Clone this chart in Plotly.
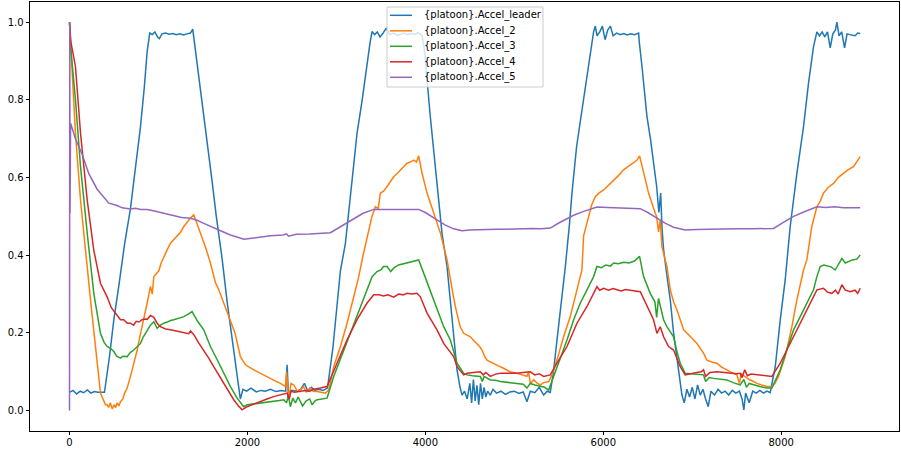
import plotly.graph_objects as go

# ---------------- data ----------------
names = ["{platoon}.Accel_leader", "{platoon}.Accel_2", "{platoon}.Accel_3",
         "{platoon}.Accel_4", "{platoon}.Accel_5"]
colors = ["#1f77b4", "#ff7f0e", "#2ca02c", "#d62728", "#9467bd"]

leader_x = [0, 40, 80, 120, 160, 200, 240, 280, 320, 360, 393,
            450, 498, 560, 620, 685, 740, 798, 840, 873, 902,
            930, 960, 990, 1010, 1040, 1080, 1120, 1160, 1200, 1240, 1280, 1320, 1360, 1385, 1400,
            1420, 1460, 1509, 1550, 1603, 1650, 1716, 1772, 1828, 1884, 1902,
            1920, 1950, 1990, 2040, 2100, 2150, 2200, 2260, 2320, 2380, 2430, 2446, 2460, 2500,
            2560, 2600, 2640, 2680, 2720, 2760, 2800, 2850, 2900,
            2960, 3045, 3101, 3170, 3232, 3290, 3345, 3380, 3401,
            3430, 3460, 3490, 3520, 3560, 3600, 3640, 3680, 3720, 3760, 3800, 3840, 3880, 3920, 3963,
            3989, 4056, 4100, 4150, 4187, 4244, 4281, 4320, 4356, 4390, 4412,
            4440, 4470, 4500, 4520, 4540, 4560, 4580, 4600, 4620, 4640, 4660, 4680, 4700, 4730,
            4760, 4800, 4850, 4900, 4950, 5000, 5050, 5100, 5142, 5180, 5230, 5280, 5330, 5370, 5404,
            5440, 5479, 5520, 5573, 5620, 5648, 5700, 5779, 5835, 5891,
            5910, 5930, 5960, 5990, 6020, 6050, 6080, 6110, 6150, 6190, 6230, 6270, 6310, 6350, 6397,
            6404, 6435, 6491, 6530, 6565, 6600, 6625, 6645, 6660, 6678, 6720, 6753, 6790, 6830, 6865,
            6884, 6910, 6940, 6970, 7000, 7030, 7060, 7090, 7120, 7150, 7180, 7210, 7250, 7290,
            7330, 7370, 7410, 7450, 7490, 7530, 7560, 7580, 7600, 7640, 7680, 7720, 7760, 7800, 7840, 7876,
            7933, 7989, 8045, 8101, 8176, 8251, 8307, 8363, 8401,
            8430, 8460, 8490, 8520, 8551, 8580, 8610, 8626, 8650, 8680, 8712, 8740, 8770, 8800, 8830, 8860, 8888]
leader_y = [0.047, 0.052, 0.043, 0.050, 0.046, 0.053, 0.045, 0.049, 0.047, 0.048, 0.047,
            0.14, 0.233, 0.33, 0.43, 0.52, 0.62, 0.731, 0.83, 0.925, 0.972,
            0.968, 0.975, 0.962, 0.958, 0.970, 0.972, 0.969, 0.971, 0.968, 0.970, 0.967, 0.970, 0.972, 0.982, 0.955,
            0.93, 0.85, 0.77, 0.69, 0.59, 0.50, 0.39, 0.28, 0.18, 0.08, 0.05,
            0.03, 0.055, 0.05, 0.058, 0.048, 0.052, 0.05, 0.055, 0.049, 0.052, 0.05, 0.118, 0.045, 0.052,
            0.05, 0.055, 0.07, 0.05, 0.06, 0.052, 0.055, 0.052, 0.058,
            0.16, 0.36, 0.43, 0.58, 0.714, 0.80, 0.90, 0.95, 0.976,
            0.968, 0.975, 0.962, 0.970, 0.985, 0.968, 0.972, 0.966, 0.970, 0.972, 0.968, 0.971, 0.969, 0.973, 0.966,
            0.93, 0.756, 0.65, 0.542, 0.457, 0.37, 0.28, 0.19, 0.105, 0.06, 0.04,
            0.05, 0.03, 0.07, 0.02, 0.08, 0.025, 0.065, 0.015, 0.07, 0.03, 0.06, 0.035, 0.05, 0.04,
            0.055, 0.045, 0.05, 0.042, 0.048, 0.05, 0.044, 0.048, 0.023, 0.05, 0.046, 0.06, 0.04, 0.05, 0.047,
            0.10, 0.18, 0.26, 0.37, 0.48, 0.56, 0.68, 0.80, 0.886, 0.975,
            0.99, 0.965, 0.975, 0.99, 0.955, 0.98, 0.99, 0.965, 0.972, 0.968, 0.971, 0.967, 0.970, 0.968, 0.972,
            0.95, 0.886, 0.757, 0.70, 0.645, 0.577, 0.51, 0.56, 0.47, 0.414, 0.34, 0.285, 0.2, 0.13, 0.08,
            0.04, 0.02, 0.055, 0.035, 0.06, 0.03, 0.066, 0.04, 0.055, 0.03, 0.01, 0.05, 0.04, 0.055,
            0.045, 0.05, 0.04, 0.052, 0.045, 0.05, 0.03, 0.002, 0.045, 0.02, 0.05, 0.045, 0.052, 0.045, 0.05, 0.046,
            0.113, 0.233, 0.337, 0.474, 0.611, 0.731, 0.843, 0.937, 0.975,
            0.965, 0.975, 0.962, 0.975, 0.934, 0.97, 0.98, 1.0, 0.965, 0.975, 0.934, 0.97, 0.968, 0.966, 0.965, 0.972, 0.971]

accel2_x = [0, 15, 30, 67, 124, 161, 199, 236, 273, 311, 348, 386, 404, 423, 440, 460, 480, 500, 520, 536,
            555, 573, 600, 620, 648, 685, 720, 761, 800, 835, 873, 910, 930, 948, 985, 1004, 1030, 1060,
            1100, 1135, 1170, 1210, 1250, 1285, 1320, 1360, 1397, 1420, 1472, 1530, 1584, 1640, 1678,
            1720, 1760, 1809, 1860, 1921, 1978, 2071, 2150, 2221, 2300, 2371, 2427, 2440, 2464, 2490,
            2521, 2560, 2596, 2630, 2660, 2700, 2740, 2783, 2830, 2876, 2914, 2970, 3045, 3120, 3195,
            3251, 3300, 3350, 3400, 3438, 3470, 3494, 3530, 3570, 3610, 3644, 3680, 3719, 3760, 3794,
            3830, 3869, 3900, 3925, 3963, 4019, 4094, 4169, 4244, 4281, 4318, 4350, 4393, 4431, 4470,
            4506, 4545, 4581, 4610, 4637, 4665, 4693, 4730, 4768, 4820, 4880, 4950, 5030, 5090, 5142,
            5160, 5180, 5220, 5260, 5292, 5330, 5386, 5420, 5479, 5554, 5629, 5704, 5760, 5779, 5835,
            5870, 5910, 5950, 6004, 6060, 6116, 6170, 6228, 6280, 6340, 6380, 6408, 6453, 6509, 6584,
            6600, 6621, 6640, 6659, 6715, 6753, 6790, 6828, 6865, 6903, 6940, 6978, 7020, 7053, 7090,
            7127, 7165, 7220, 7277, 7330, 7390, 7440, 7502, 7530, 7550, 7590, 7640, 7690, 7727, 7780,
            7839, 7895, 7930, 7970, 8045, 8120, 8176, 8251, 8288, 8344, 8401, 8440, 8475, 8530, 8588,
            8640, 8700, 8750, 8812, 8850, 8888]
accel2_y = [1.0, 0.93, 0.886, 0.714, 0.542, 0.45, 0.37, 0.285, 0.2, 0.12, 0.045, 0.025, 0.015, 0.015, 0.008,
            0.02, 0.004, 0.015, 0.008, 0.02, 0.012, 0.023, 0.03, 0.045, 0.058, 0.088, 0.12, 0.156, 0.2,
            0.233, 0.277, 0.32, 0.30, 0.345, 0.354, 0.36, 0.38, 0.397, 0.415, 0.431, 0.44, 0.448, 0.46,
            0.474, 0.485, 0.496, 0.504, 0.49, 0.457, 0.42, 0.38, 0.33, 0.311, 0.285, 0.26, 0.23, 0.2,
            0.139, 0.118, 0.105, 0.095, 0.088, 0.078, 0.07, 0.062, 0.1, 0.028, 0.07, 0.066, 0.05, 0.053,
            0.062, 0.048, 0.058, 0.05, 0.049, 0.047, 0.045, 0.053, 0.113, 0.165, 0.225, 0.293, 0.345,
            0.40, 0.45, 0.50, 0.525, 0.52, 0.56, 0.565, 0.577, 0.59, 0.602, 0.61, 0.62, 0.63, 0.637,
            0.64, 0.645, 0.64, 0.656, 0.611, 0.56, 0.509, 0.457, 0.388, 0.336, 0.29, 0.255, 0.215,
            0.199, 0.195, 0.19, 0.18, 0.173, 0.165, 0.156, 0.14, 0.13, 0.125, 0.122, 0.115, 0.109, 0.10,
            0.096, 0.092, 0.088, 0.1, 0.07, 0.079, 0.07, 0.066, 0.072, 0.075, 0.09, 0.13, 0.19, 0.242,
            0.311, 0.362, 0.45, 0.50, 0.53, 0.551, 0.56, 0.568, 0.58, 0.594, 0.605, 0.62, 0.628, 0.637,
            0.645, 0.656, 0.611, 0.56, 0.508, 0.5, 0.46, 0.49, 0.422, 0.371, 0.311, 0.28, 0.259, 0.234,
            0.208, 0.2, 0.19, 0.18, 0.173, 0.16, 0.148, 0.13, 0.125, 0.122, 0.112, 0.105, 0.098, 0.092,
            0.07, 0.095, 0.088, 0.08, 0.075, 0.07, 0.066, 0.062, 0.062, 0.07, 0.088, 0.139, 0.216, 0.285,
            0.362, 0.388, 0.474, 0.525, 0.54, 0.56, 0.575, 0.585, 0.60, 0.611, 0.62, 0.628, 0.64, 0.654]

accel3_x = [0, 15, 67, 124, 199, 273, 348, 390, 423, 460, 498, 530, 573, 600, 648, 685, 723, 760, 798,
            830, 873, 910, 948, 985, 1022, 1060, 1100, 1135, 1172, 1230, 1285, 1330, 1378, 1400, 1440,
            1509, 1584, 1660, 1734, 1809, 1884, 1958, 1997, 2070, 2146, 2220, 2296, 2360, 2408, 2440,
            2460, 2483, 2510, 2540, 2570, 2596, 2620, 2660, 2700, 2727, 2760, 2783, 2840, 2895, 2970,
            3082, 3195, 3270, 3345, 3401, 3457, 3500, 3530, 3570, 3610, 3650, 3700, 3750, 3794, 3850,
            3900, 3925, 3981, 4050, 4094, 4150, 4206, 4281, 4356, 4431, 4470, 4530, 4618, 4640, 4660,
            4730, 4790, 4843, 4930, 5030, 5100, 5142, 5180, 5230, 5292, 5340, 5386, 5442, 5517, 5592,
            5667, 5742, 5817, 5891, 5929, 5980, 6030, 6080, 6116, 6170, 6230, 6290, 6350, 6408, 6453,
            6528, 6580, 6600, 6621, 6650, 6678, 6715, 6790, 6830, 6865, 6921, 6980, 7050, 7127, 7150,
            7190, 7240, 7300, 7390, 7460, 7539, 7580, 7610, 7640, 7689, 7760, 7839, 7895, 7989, 8064,
            8139, 8214, 8288, 8363, 8401, 8438, 8480, 8520, 8560, 8607, 8650, 8682, 8720, 8760, 8800,
            8850, 8888]
accel3_y = [1.0, 0.93, 0.8, 0.628, 0.457, 0.302, 0.199, 0.175, 0.165, 0.16, 0.152, 0.14, 0.135, 0.14,
            0.139, 0.15, 0.156, 0.165, 0.173, 0.19, 0.208, 0.22, 0.229, 0.212, 0.22, 0.225, 0.228, 0.232,
            0.234, 0.238, 0.242, 0.248, 0.255, 0.246, 0.23, 0.208, 0.165, 0.131, 0.096, 0.062, 0.032,
            0.01, 0.015, 0.017, 0.019, 0.021, 0.023, 0.026, 0.028, 0.02, 0.04, 0.01, 0.032, 0.02, 0.035,
            0.023, 0.012, 0.025, 0.03, 0.015, 0.025, 0.028, 0.03, 0.032, 0.088, 0.156, 0.225, 0.268,
            0.311, 0.345, 0.358, 0.362, 0.371, 0.371, 0.358, 0.368, 0.375, 0.378, 0.38, 0.383, 0.385,
            0.388, 0.354, 0.31, 0.285, 0.25, 0.216, 0.182, 0.122, 0.096, 0.092, 0.09, 0.088, 0.075, 0.088,
            0.079, 0.078, 0.075, 0.072, 0.07, 0.068, 0.058, 0.07, 0.066, 0.062, 0.06, 0.053, 0.088, 0.131,
            0.182, 0.234, 0.277, 0.311, 0.345, 0.371, 0.368, 0.375, 0.372, 0.38, 0.378, 0.382, 0.38,
            0.385, 0.397, 0.345, 0.302, 0.28, 0.24, 0.289, 0.26, 0.234, 0.216, 0.19, 0.15, 0.122, 0.096,
            0.095, 0.094, 0.092, 0.075, 0.085, 0.083, 0.082, 0.079, 0.072, 0.066, 0.08, 0.06, 0.07, 0.066,
            0.062, 0.058, 0.058, 0.105, 0.156, 0.208, 0.242, 0.277, 0.311, 0.345, 0.371, 0.375, 0.372,
            0.37, 0.362, 0.38, 0.392, 0.38, 0.385, 0.388, 0.39, 0.401]

accel4_x = [0, 15, 67, 124, 199, 273, 348, 423, 470, 517, 573, 610, 650, 685, 720, 750, 780, 816, 850,
            873, 910, 948, 985, 1022, 1080, 1135, 1190, 1247, 1300, 1340, 1360, 1400, 1450, 1509, 1565,
            1621, 1680, 1734, 1790, 1846, 1900, 1940, 1997, 2070, 2146, 2220, 2296, 2370, 2446, 2470,
            2490, 2530, 2596, 2650, 2700, 2746, 2820, 2895, 3007, 3120, 3232, 3345, 3420, 3480, 3530,
            3580, 3644, 3700, 3750, 3794, 3850, 3906, 3944, 4019, 4131, 4206, 4318, 4356, 4431, 4470,
            4540, 4618, 4650, 4680, 4730, 4790, 4843, 4930, 5030, 5100, 5180, 5230, 5280, 5329, 5404,
            5479, 5592, 5704, 5817, 5891, 5929, 5960, 6004, 6060, 6110, 6154, 6200, 6250, 6303, 6360,
            6416, 6491, 6565, 6603, 6640, 6678, 6734, 6790, 6865, 6921, 6980, 7050, 7100, 7127, 7150,
            7200, 7277, 7350, 7430, 7500, 7539, 7560, 7590, 7620, 7660, 7727, 7800, 7895, 7989, 8101,
            8214, 8326, 8401, 8475, 8520, 8569, 8610, 8640, 8682, 8720, 8775, 8830, 8860, 8888]
accel4_y = [1.0, 0.95, 0.886, 0.714, 0.542, 0.413, 0.328, 0.293, 0.265, 0.251, 0.234, 0.234, 0.225,
            0.225, 0.22, 0.23, 0.228, 0.234, 0.236, 0.235, 0.245, 0.24, 0.225, 0.216, 0.21, 0.208, 0.205,
            0.203, 0.2, 0.198, 0.205, 0.195, 0.175, 0.156, 0.135, 0.113, 0.09, 0.07, 0.05, 0.028, 0.012,
            0.002, 0.01, 0.017, 0.023, 0.03, 0.036, 0.04, 0.045, 0.03, 0.05, 0.047, 0.049, 0.052, 0.05,
            0.055, 0.058, 0.062, 0.122, 0.182, 0.234, 0.277, 0.298, 0.298, 0.295, 0.298, 0.292, 0.3,
            0.298, 0.302, 0.3, 0.302, 0.293, 0.251, 0.208, 0.173, 0.139, 0.113, 0.092, 0.096, 0.098,
            0.1, 0.092, 0.098, 0.088, 0.094, 0.096, 0.096, 0.096, 0.098, 0.1, 0.092, 0.095, 0.088, 0.092,
            0.122, 0.165, 0.225, 0.268, 0.302, 0.319, 0.31, 0.315, 0.31, 0.314, 0.311, 0.308, 0.312,
            0.311, 0.308, 0.306, 0.268, 0.234, 0.199, 0.216, 0.19, 0.165, 0.156, 0.113, 0.092, 0.094,
            0.098, 0.1, 0.105, 0.088, 0.098, 0.1, 0.098, 0.097, 0.095, 0.096, 0.085, 0.105, 0.09, 0.094,
            0.092, 0.09, 0.088, 0.122, 0.173, 0.225, 0.277, 0.311, 0.315, 0.305, 0.302, 0.31, 0.3, 0.324,
            0.31, 0.306, 0.31, 0.302, 0.315]

accel5_x = [0, 3, 6, 12, 67, 142, 217, 311, 380, 442, 536, 592, 685, 742, 800, 873, 930, 985, 1080,
            1172, 1260, 1360, 1435, 1510, 1584, 1697, 1809, 1921, 1960, 2050, 2150, 2258, 2400, 2440,
            2460, 2550, 2700, 2820, 2933, 3050, 3195, 3300, 3420, 3520, 3600, 3700, 3800, 3925, 4000,
            4131, 4220, 4318, 4412, 4500, 4600, 4700, 4800, 4900, 5000, 5100, 5200, 5300, 5404, 5500,
            5600, 5667, 5780, 5929, 6050, 6200, 6300, 6416, 6500, 6603, 6700, 6790, 6921, 7050, 7200,
            7350, 7500, 7650, 7800, 7914, 8020, 8139, 8260, 8401, 8500, 8600, 8700, 8800, 8888]
accel5_y = [0.0, 1.0, 0.508, 0.74, 0.70, 0.66, 0.61, 0.57, 0.55, 0.534, 0.528, 0.522, 0.519, 0.521,
            0.518, 0.518, 0.515, 0.512, 0.505, 0.501, 0.497, 0.495, 0.49, 0.482, 0.474, 0.463, 0.452,
            0.444, 0.441, 0.444, 0.447, 0.45, 0.452, 0.455, 0.449, 0.454, 0.455, 0.457, 0.458, 0.474,
            0.494, 0.508, 0.518, 0.518, 0.517, 0.518, 0.517, 0.518, 0.51, 0.491, 0.478, 0.468, 0.463,
            0.465, 0.466, 0.466, 0.467, 0.467, 0.468, 0.468, 0.469, 0.468, 0.47, 0.483, 0.496, 0.503,
            0.513, 0.524, 0.523, 0.522, 0.521, 0.52, 0.51, 0.495, 0.482, 0.472, 0.465, 0.466, 0.467,
            0.467, 0.468, 0.468, 0.468, 0.469, 0.484, 0.5, 0.512, 0.525, 0.523, 0.525, 0.522, 0.521, 0.522]

x_ticks = [0, 2000, 4000, 6000, 8000]
y_ticks = [0.0, 0.2, 0.4, 0.6, 0.8, 1.0]

series_x = [leader_x, accel2_x, accel3_x, accel4_x, accel5_x]
series_y = [leader_y, accel2_y, accel3_y, accel4_y, accel5_y]

# ---------------- figure ----------------
W, H = 901, 449
ML, MR, MT, MB = 30, 2, 2, 18
PW, PH = W - ML - MR, H - MT - MB

fig = go.Figure()
for nm, c, xs, ys in zip(names, colors, series_x, series_y):
    fig.add_trace(go.Scatter(x=xs, y=ys, mode="lines", name=nm,
                             line=dict(color=c, width=1.5), showlegend=False))

FONT = "DejaVu Sans, Verdana, sans-serif"
axis_common = dict(showgrid=False, zeroline=False, showline=True, mirror=True,
                   linecolor="#000000", linewidth=0.8, ticks="outside", ticklen=3.5,
                   tickwidth=0.8, tickcolor="#000000", automargin=False,
                   tickfont=dict(family=FONT, size=10, color="#000000"))

fig.update_layout(
    width=W, height=H,
    margin=dict(l=ML, r=MR, t=MT, b=MB, autoexpand=False),
    paper_bgcolor="white", plot_bgcolor="white",
    xaxis=dict(range=[-444, 9324], tickvals=x_ticks, ticklabelstandoff=-1, **axis_common),
    yaxis=dict(range=[-0.0525, 1.052], tickvals=y_ticks, tickformat=".1f", **axis_common),
    showlegend=False,
)

# ---- legend drawn in the matplotlib style (box, line samples, labels) ----
def px_x(p):
    return (p - ML) / PW

def px_y(p):
    return (H - MB - p) / PH

box = dict(x0=387, x1=543, y0=7, y1=87)
fig.add_shape(type="rect", xref="paper", yref="paper", layer="above",
              x0=px_x(box["x0"]), x1=px_x(box["x1"]), y0=px_y(box["y1"]), y1=px_y(box["y0"]),
              line=dict(color="#cccccc", width=1), fillcolor="rgba(255,255,255,0.8)")
row0, row_step = 15.3, 15.5
for i, (nm, c) in enumerate(zip(names, colors)):
    ry = row0 + i * row_step
    fig.add_shape(type="line", xref="paper", yref="paper", layer="above",
                  x0=px_x(390), x1=px_x(412), y0=px_y(ry), y1=px_y(ry),
                  line=dict(color=c, width=1.5))
    fig.add_annotation(x=px_x(422), y=px_y(ry), xref="paper", yref="paper",
                       text=nm, showarrow=False, xanchor="left", yanchor="middle",
                       font=dict(family=FONT, size=10, color="#000000"))

fig.write_html("out.html", config={"displayModeBar": False},
               post_script="document.body.style.margin='0';document.body.style.overflow='hidden';")
